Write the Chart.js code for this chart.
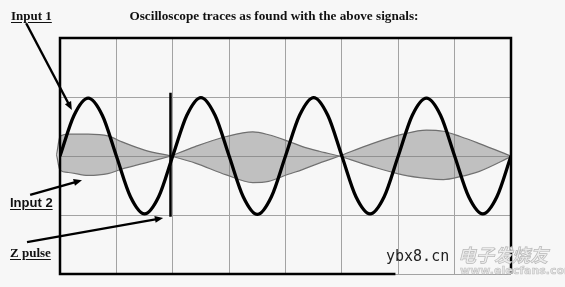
<!DOCTYPE html>
<html lang="en">
<head>
  <meta charset="UTF-8">
  <title>Oscilloscope traces</title>
  <script src="https://cdn.jsdelivr.net/npm/chart.js"></script>
  <style>
    body { margin: 0; background: #f7f7f7; }
    .wrap { position: relative; width: 565px; height: 287px; overflow: hidden; background: #f7f7f7; }
    .wrap canvas { position: absolute; left: 0; top: 0; }
    .lbl { position: absolute; font-weight: bold; line-height: 1; white-space: nowrap; color: #111; }
    .serif { font-family: "Liberation Serif", "DejaVu Serif", serif; }
    .sans { font-family: "Liberation Sans", Arial, sans-serif; }
    .ul { text-decoration: underline; text-decoration-thickness: 1px; text-underline-offset: 2px; }
    #title { left: 0; width: 548px; text-align: center; top: 9px; font-size: 13.2px; }
    #in1 { left: 11px; top: 9px; font-size: 13px; }
    #in2 { left: 10px; top: 196px; font-size: 13px; }
    #zp { left: 10px; top: 246px; font-size: 13px; }
    #wm1 { left: 386px; top: 249px; font-size: 15px; font-family: "DejaVu Sans Mono", monospace; font-weight: normal; color: #222; }
    #wm2 { left: 458px; top: 245px; font-size: 18px; font-family: "Noto Sans CJK SC", sans-serif; font-style: italic; color: #ececec; -webkit-text-stroke: 0.7px #b8b8b8; }
    #wm3 { left: 460px; top: 265px; font-size: 11px; font-family: "DejaVu Sans", sans-serif; color: #e4e4e4; -webkit-text-stroke: 0.5px #bdbdbd; }
  </style>
</head>
<body>
<div class="wrap">
  <canvas id="scope" width="565" height="287"></canvas>
  <div class="lbl serif" id="title">Oscilloscope traces as found with the above signals:</div>
  <div class="lbl serif ul" id="in1">Input 1</div>
  <div class="lbl sans ul" id="in2">Input 2</div>
  <div class="lbl serif ul" id="zp">Z pulse</div>
  <div class="lbl" id="wm1">ybx8.cn</div>
  <div class="lbl" id="wm2">电子发烧友</div>
  <div class="lbl" id="wm3">www.elecfans.com</div>
</div>
<script>
  // screen divisions: 8 across, 4 high (centre = 0)
  const divX = [0, 1, 2, 3, 4, 5, 6, 7, 8];

  // Input 1 (black sine), read every quarter division
  const input1X = [0, 0.25, 0.5, 0.75, 1, 1.25, 1.5, 1.75, 2, 2.25, 2.5, 2.75, 3, 3.25, 3.5, 3.75,
                   4, 4.25, 4.5, 4.75, 5, 5.25, 5.5, 5.75, 6, 6.25, 6.5, 6.75, 7, 7.25, 7.5, 7.75, 8];
  const input1Y = [0, 0.69, 0.98, 0.69, 0, -0.69, -0.98, -0.69,
                   0, 0.69, 0.99, 0.69, 0, -0.69, -0.99, -0.69,
                   0, 0.69, 0.99, 0.69, 0, -0.69, -0.98, -0.69,
                   0, 0.69, 0.98, 0.69, 0, -0.69, -0.98, -0.69, 0];

  // Input 2 (grey envelope), three lobes
  const lobe1X = [-0.06, 0, 0.15, 0.5, 0.85, 1.1, 1.5, 1.97];
  const lobe1Upper = [0.02, 0.33, 0.37, 0.37, 0.34, 0.24, 0.10, 0];
  const lobe1Lower = [0.02, -0.24, -0.28, -0.33, -0.30, -0.22, -0.12, 0];
  const lobe2X = [1.97, 2.4, 2.95, 3.42, 3.7, 4.05, 4.3, 4.6, 4.96];
  const lobe2Upper = [0, 0.16, 0.33, 0.41, 0.36, 0.25, 0.16, 0.08, 0];
  const lobe2Lower = [0, -0.12, -0.32, -0.45, -0.43, -0.31, -0.23, -0.12, 0];
  const lobe3X = [4.96, 5.54, 6.08, 6.5, 6.8, 7.1, 7.44, 8];
  const lobe3Upper = [0, 0.21, 0.37, 0.44, 0.42, 0.33, 0.21, 0];
  const lobe3Lower = [0, -0.18, -0.32, -0.38, -0.40, -0.35, -0.26, -0.01];

  // Z pulse
  const zX = [1.96, 1.96];
  const zY = [1.07, -1.03];

  // label arrows (from label to trace), in division units
  const arrowFromX = [-0.6, -0.53, -0.585];
  const arrowFromY = [2.25, -0.66, -1.46];
  const arrowToX = [0.21, 0.39, 1.83];
  const arrowToY = [0.78, -0.41, -1.05];
  const frameBottomEnd = 5.95;

  const pts = (xs, ys) => xs.map((x, i) => ({ x: x, y: ys[i] }));

  const lobeSets = [];
  [[lobe1X, lobe1Upper, lobe1Lower], [lobe2X, lobe2Upper, lobe2Lower], [lobe3X, lobe3Upper, lobe3Lower]].forEach(l => {
    lobeSets.push({
      data: pts(l[0], l[1]), borderColor: '#6f6f6f', borderWidth: 1.2,
      backgroundColor: 'rgba(125,125,125,0.45)', fill: '+1',
      cubicInterpolationMode: 'monotone', pointRadius: 0, clip: false
    });
    lobeSets.push({
      data: pts(l[0], l[2]), borderColor: '#6f6f6f', borderWidth: 1.2,
      fill: false, cubicInterpolationMode: 'monotone', pointRadius: 0, clip: false
    });
  });

  const scopeFrame = {
    id: 'scopeFrame',
    afterDatasetsDraw(chart) {
      const c = chart.ctx, a = chart.chartArea;
      const xs = chart.scales.x, ys = chart.scales.y;
      c.save();
      c.strokeStyle = '#000';
      c.lineWidth = 2.5;
      c.beginPath();
      c.moveTo(xs.getPixelForValue(frameBottomEnd), a.bottom);
      c.lineTo(a.left, a.bottom);
      c.lineTo(a.left, a.top);
      c.lineTo(a.right, a.top);
      c.lineTo(a.right, a.bottom);
      c.stroke();

      // arrows
      c.lineWidth = 2.4;
      c.fillStyle = '#000';
      for (let i = 0; i < arrowFromX.length; i++) {
        const x1 = xs.getPixelForValue(arrowFromX[i]), y1 = ys.getPixelForValue(arrowFromY[i]);
        const x2 = xs.getPixelForValue(arrowToX[i]), y2 = ys.getPixelForValue(arrowToY[i]);
        const ang = Math.atan2(y2 - y1, x2 - x1);
        c.beginPath();
        c.moveTo(x1, y1);
        c.lineTo(x2 - 5 * Math.cos(ang), y2 - 5 * Math.sin(ang));
        c.stroke();
        c.beginPath();
        c.moveTo(x2, y2);
        c.lineTo(x2 - 9 * Math.cos(ang - 0.4), y2 - 9 * Math.sin(ang - 0.4));
        c.lineTo(x2 - 9 * Math.cos(ang + 0.4), y2 - 9 * Math.sin(ang + 0.4));
        c.closePath();
        c.fill();
      }
      c.restore();
    }
  };

  new Chart(document.getElementById('scope').getContext('2d'), {
    type: 'line',
    data: {
      datasets: [
        {
          label: 'Input 1', data: pts(input1X, input1Y), borderColor: '#000', borderWidth: 3.3,
          cubicInterpolationMode: 'monotone', pointRadius: 0, fill: false
        },
        {
          label: 'Z pulse', data: pts(zX, zY), borderColor: '#000', borderWidth: 2.5,
          pointRadius: 0, fill: false, tension: 0
        }
      ].concat(lobeSets)
    },
    options: {
      responsive: false,
      animation: false,
      devicePixelRatio: 1,
      layout: { padding: { left: 60, top: 38, right: 54, bottom: 13 } },
      plugins: { legend: { display: false }, tooltip: { enabled: false }, title: { display: false } },
      scales: {
        x: {
          type: 'linear', min: divX[0], max: divX[divX.length - 1],
          ticks: { display: false, stepSize: 1 },
          grid: { color: '#a3a3a3', lineWidth: 1, drawTicks: false },
          border: { display: false }
        },
        y: {
          type: 'linear', min: -2, max: 2,
          ticks: { display: false, stepSize: 1 },
          grid: { color: '#a3a3a3', lineWidth: 1, drawTicks: false },
          border: { display: false }
        }
      }
    },
    plugins: [scopeFrame]
  });
</script>
</body>
</html>
